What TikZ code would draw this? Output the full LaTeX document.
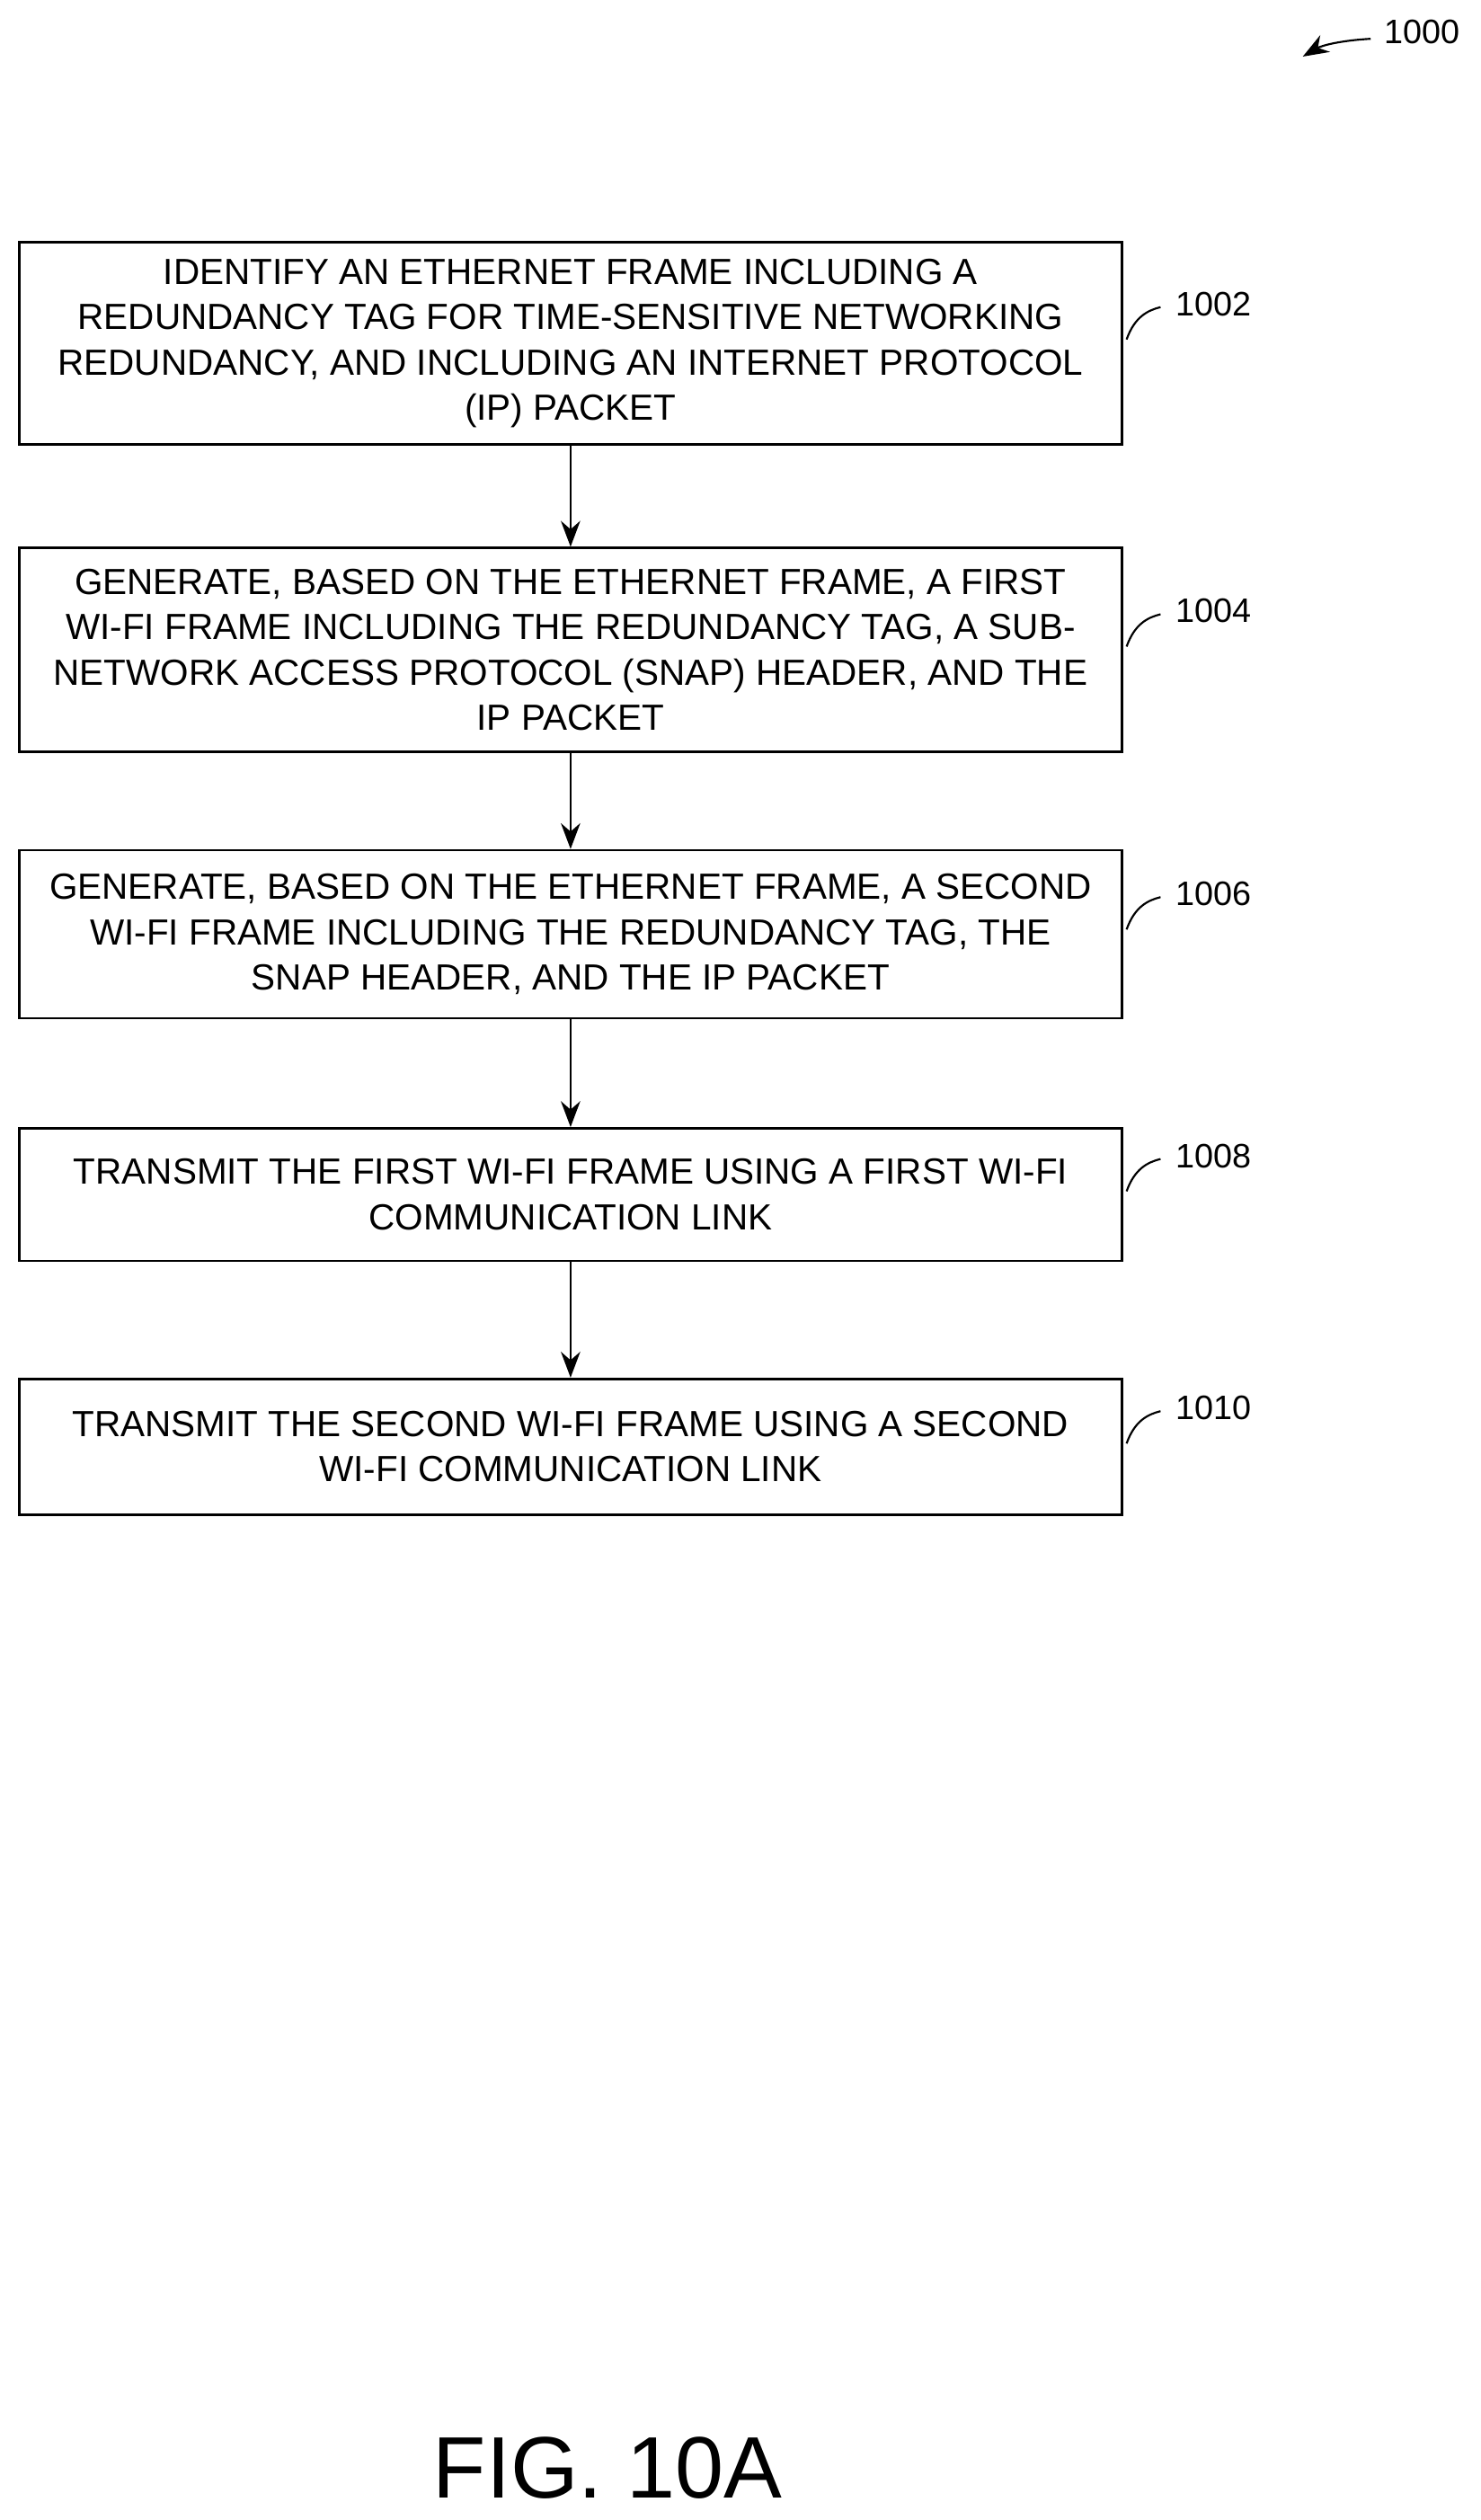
\documentclass[tikz,border=0pt]{standalone}
\usepackage{fontspec}
\setmainfont{Liberation Sans}
\usetikzlibrary{arrows.meta}
\begin{document}
\begin{tikzpicture}[x=1pt,y=-1pt,
 box/.style={draw,line width=1.5pt,minimum width=682pt,align=center,inner sep=0pt,font=\fontsize{22.5}{28}\selectfont},
 lbl/.style={font=\fontsize{21}{25}\selectfont,anchor=west},
 arr/.style={-{Stealth[length=16pt,width=12pt]},line width=1.2pt},
 tick/.style={line width=1.2pt}]
\useasboundingbox (0,0) rectangle (916,1559);
\node[box,minimum height=125pt] (b1) at (353,212.5) {IDENTIFY AN ETHERNET FRAME INCLUDING A\\REDUNDANCY TAG FOR TIME-SENSITIVE NETWORKING\\REDUNDANCY, AND INCLUDING AN INTERNET PROTOCOL\\(IP) PACKET};
\node[box,minimum height=126pt] (b2) at (353,402) {GENERATE, BASED ON THE ETHERNET FRAME, A FIRST\\WI-FI FRAME INCLUDING THE REDUNDANCY TAG, A SUB-\\NETWORK ACCESS PROTOCOL (SNAP) HEADER, AND THE\\IP PACKET};
\node[box,minimum height=104pt] (b3) at (353,578) {GENERATE, BASED ON THE ETHERNET FRAME, A SECOND\\WI-FI FRAME INCLUDING THE REDUNDANCY TAG, THE\\SNAP HEADER, AND THE IP PACKET};
\node[box,minimum height=82pt] (b4) at (353,739) {TRANSMIT THE FIRST WI-FI FRAME USING A FIRST WI-FI\\COMMUNICATION LINK};
\node[box,minimum height=84pt] (b5) at (353,895) {TRANSMIT THE SECOND WI-FI FRAME USING A SECOND\\WI-FI COMMUNICATION LINK};
\foreach \a/\b in {b1/b2,b2/b3,b3/b4,b4/b5} \draw[arr] (\a) -- (\b);
\foreach \n/\y/\t in {b1/188/1002,b2/378/1004,b3/553/1006,b4/715/1008,b5/871/1010}{
 \node[lbl] (l\t) at (724,\y) {\t};
 \draw[tick] (697,\y+22) .. controls (702,\y+8) and (710,\y+4) .. (718,\y+2);
}
\node[lbl] (l1000) at (853,20) {1000};
\coordinate (a0) at (806,35);
\draw[arr] (848,24) .. controls (830,25) and (818,28) .. (a0);
\node[font=\fontsize{54}{54}\selectfont] (fig) at (376,1527) {FIG. 10A};
\end{tikzpicture}
\end{document}
